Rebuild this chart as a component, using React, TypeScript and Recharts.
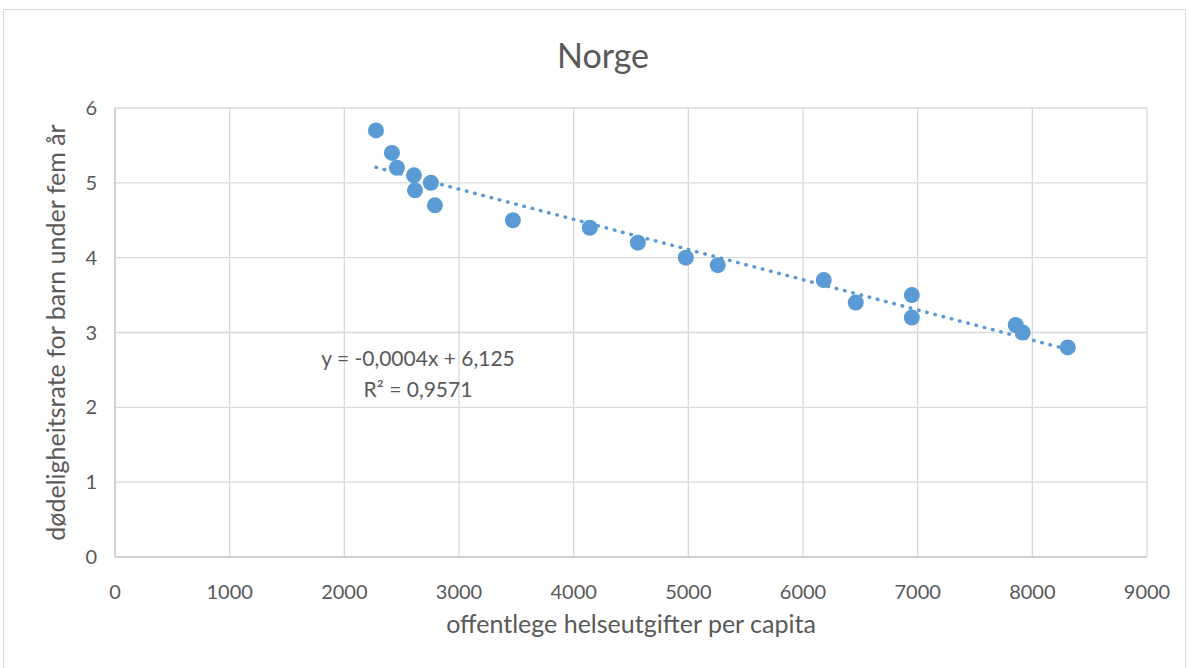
import { ScatterChart, Scatter, XAxis, YAxis, CartesianGrid, Label } from 'recharts';

const spending = [2276, 2415, 2459, 2607, 2616, 2755, 2790, 3470, 4141, 4560, 4978, 5257, 6181, 6460, 6949, 6949, 7855, 7916, 8309];
const mortality = [5.7, 5.4, 5.2, 5.1, 4.9, 5.0, 4.7, 4.5, 4.4, 4.2, 4.0, 3.9, 3.7, 3.4, 3.5, 3.2, 3.1, 3.0, 2.8];
const xTicks = [0, 1000, 2000, 3000, 4000, 5000, 6000, 7000, 8000, 9000];
const yTicks = [0, 1, 2, 3, 4, 5, 6];

const points = spending.map((x, i) => ({ x, y: mortality[i] }));

// least squares trend line, like Excel's linear trendline
const n = points.length;
const mx = spending.reduce((a, b) => a + b, 0) / n;
const my = mortality.reduce((a, b) => a + b, 0) / n;
const slope =
  points.reduce((s, p) => s + (p.x - mx) * (p.y - my), 0) /
  points.reduce((s, p) => s + (p.x - mx) ** 2, 0);
const intercept = my - slope * mx;
const xMin = Math.min(...spending);
const xMax = Math.max(...spending);
const trend = [
  { x: xMin, y: intercept + slope * xMin },
  { x: xMax, y: intercept + slope * xMax },
];

const FONT = 'Lato, "Open Sans", sans-serif';
const BLUE = '#5b9bd5';
const TEXT = '#595959';

export default function App() {
  return (
    <div style={{ position: 'absolute', left: 0, top: 0, width: 1190, height: 668, background: '#fff', fontFamily: FONT }}>
      <div style={{ position: 'absolute', left: 3, top: 9, width: 1183, height: 670, border: '1px solid #d9d9d9', boxSizing: 'border-box' }} />
      <div style={{ position: 'absolute', left: 0, top: 34, width: 1206, textAlign: 'center', fontSize: 34, color: TEXT }}>Norge</div>
      <ScatterChart width={1190} height={668} margin={{ top: 108, right: 43, bottom: 0, left: 0 }}>
        <CartesianGrid stroke="#d9d9d9" strokeWidth={1.3} />
        <XAxis
          type="number"
          dataKey="x"
          domain={[0, 9000]}
          ticks={xTicks}
          height={111}
          stroke="#bfbfbf"
          tickLine={false}
          tickMargin={22}
          tick={{ fill: TEXT, fontSize: 20, fontFamily: FONT }}
        >
          <Label value="offentlege helseutgifter per capita" position="insideTop" offset={58} fill={TEXT} fontSize={25} fontFamily={FONT} />
        </XAxis>
        <YAxis
          type="number"
          dataKey="y"
          domain={[0, 6]}
          ticks={yTicks}
          width={115}
          stroke="#bfbfbf"
          tickLine={false}
          tickMargin={12}
          tick={{ fill: TEXT, fontSize: 20, fontFamily: FONT }}
        >
          <Label value="dødeligheitsrate for barn under fem år" angle={-90} position="insideLeft" offset={56} fill={TEXT} fontSize={25} fontFamily={FONT} style={{ textAnchor: 'middle' }} />
        </YAxis>
        <Scatter
          data={trend}
          isAnimationActive={false}
          line={{ stroke: BLUE, strokeWidth: 3.5, strokeDasharray: '0.5 8', strokeLinecap: 'round' }}
          shape={() => <g />}
        />
        <Scatter
          data={points}
          isAnimationActive={false}
          fill={BLUE}
          shape={(p: any) => <circle cx={p.cx} cy={p.cy} r={8} fill={BLUE} />}
        />
      </ScatterChart>
      <div style={{ position: 'absolute', left: 298, top: 342, width: 240, textAlign: 'center', fontSize: 21, color: TEXT, lineHeight: '31px' }}>
        y = -0,0004x + 6,125
        <br />
        R² = 0,9571
      </div>
    </div>
  );
}
